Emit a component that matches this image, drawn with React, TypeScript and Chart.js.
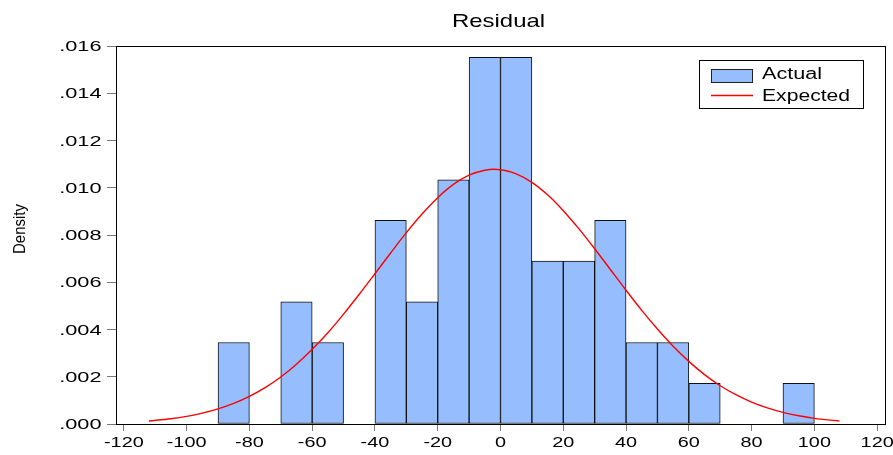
import React, { useEffect, useRef } from "react";
import { Chart, registerables } from "chart.js";

Chart.register(...registerables);

const titleText = "Residual";
const yAxisTitle = "Density";
const seriesLabels = ["Actual", "Expected"];

// histogram bins (centres, width 10) and densities
const binCenters = [-85, -75, -65, -55, -45, -35, -25, -15, -5, 5, 15, 25, 35, 45, 55, 65, 75, 85, 95];
const binDensity = [
  0.00345, 0, 0.00517, 0.00345, 0, 0.00862, 0.00517, 0.01034, 0.01552, 0.01552,
  0.0069, 0.0069, 0.00862, 0.00345, 0.00345, 0.00172, 0, 0, 0.00172,
];

// expected (normal) density curve
const curveX = [
  -112, -105, -100, -95, -90, -85, -80, -75, -70, -65, -60, -55, -50, -45, -40, -35, -30, -25, -20, -15,
  -10, -5, -2, 0, 5, 10, 15, 20, 25, 30, 35, 40, 45, 50, 55, 60, 65, 70, 75, 80, 85, 90, 95, 100, 105, 108,
];
const curveY = [
  0.00013, 0.000224, 0.000323, 0.000458, 0.000637, 0.000871, 0.00117, 0.00154, 0.00199, 0.00253,
  0.00316, 0.00386, 0.00465, 0.00549, 0.00636, 0.00724, 0.0081, 0.00889, 0.00958, 0.01014,
  0.01053, 0.01074, 0.01078, 0.01076, 0.01059, 0.01023, 0.0097, 0.00903, 0.00826, 0.00742,
  0.00654, 0.00566, 0.00481, 0.00402, 0.00329, 0.00265, 0.00209, 0.00162, 0.00124, 0.000925,
  0.000679, 0.00049, 0.000347, 0.00024, 0.000165, 0.00013,
];

const xMin = -122.5;
const xMax = 122.5;
const xStep = 20;
const yMin = 0;
const yMax = 0.016;
const yStep = 0.002;

const BAR_FILL = "rgb(150,190,255)";
const RED = "rgb(255,0,0)";
const FONT = "'Liberation Sans', Arial, sans-serif";

const fmtY = (v: number) => v.toFixed(3).replace(/^0/, "");
const fmtX = (v: number) => String(Math.round(v));

function stretchedText(
  ctx: CanvasRenderingContext2D,
  text: string,
  x: number,
  baseline: number,
  size: number,
  sx: number,
  align: CanvasTextAlign
) {
  ctx.save();
  ctx.translate(x, baseline);
  ctx.scale(sx, 1);
  ctx.font = `${size}px ${FONT}`;
  ctx.textAlign = align;
  ctx.textBaseline = "alphabetic";
  ctx.fillStyle = "#000";
  ctx.fillText(text, 0, 0);
  ctx.restore();
}

const decorPlugin = {
  id: "decor",
  afterDraw(chart: any) {
    const ctx: CanvasRenderingContext2D = chart.ctx;
    const { left, right, top, bottom } = chart.chartArea;
    // frame
    ctx.save();
    ctx.strokeStyle = "#000";
    ctx.lineWidth = 1;
    ctx.strokeRect(Math.round(left) + 0.5, Math.round(top) + 0.5, Math.round(right) - Math.round(left), Math.round(bottom) - Math.round(top));
    ctx.restore();

    // y tick labels
    const ys = chart.scales.y;
    ys.ticks.forEach((t: any) => {
      const py = ys.getPixelForValue(t.value);
      const lbl = typeof t.label === "string" ? t.label : fmtY(t.value);
      stretchedText(ctx, lbl, 101.5, py + 0.36 * 14.5, 14.5, 1.5, "right");
    });
    // x tick labels
    const xs = chart.scales.x;
    xs.ticks.forEach((t: any) => {
      const px = xs.getPixelForValue(t.value);
      const lbl = typeof t.label === "string" ? t.label : fmtX(t.value);
      stretchedText(ctx, lbl, px, 441 + 0.36 * 15.5, 15.5, 1.28, "center");
    });

    // title
    stretchedText(ctx, titleText, (left + right) / 2 - 2, 27.2, 19, 1.26, "center");

    // y axis title
    ctx.save();
    ctx.translate(24.5, 229);
    ctx.rotate(-Math.PI / 2);
    ctx.scale(1, 1.08);
    ctx.font = `15px ${FONT}`;
    ctx.textAlign = "center";
    ctx.textBaseline = "alphabetic";
    ctx.fillStyle = "#000";
    ctx.fillText(yAxisTitle, 0, 0);
    ctx.restore();

    // legend
    const ds = chart.data.datasets;
    ctx.save();
    ctx.fillStyle = "#fff";
    ctx.fillRect(700, 61, 163, 47);
    ctx.strokeStyle = "#000";
    ctx.lineWidth = 1;
    ctx.strokeRect(699.5, 60.5, 164, 48);
    ctx.fillStyle = BAR_FILL;
    ctx.fillRect(711.5, 69.5, 41, 13);
    ctx.strokeStyle = "#222";
    ctx.strokeRect(711.5, 69.5, 41, 13);
    ctx.strokeStyle = RED;
    ctx.lineWidth = 1.4;
    ctx.beginPath();
    ctx.moveTo(711, 95.5);
    ctx.lineTo(753, 95.5);
    ctx.stroke();
    ctx.restore();
    stretchedText(ctx, ds[0].label, 762, 78.8, 16, 1.35, "left");
    stretchedText(ctx, ds[1].label, 762, 100.8, 16, 1.32, "left");
  },
};

export default function App() {
  const ref = useRef<HTMLCanvasElement | null>(null);

  useEffect(() => {
    document.body.style.margin = "0";
    const canvas = ref.current;
    if (!canvas) return;
    const chart = new Chart(canvas, {
      type: "bar",
      data: {
        datasets: [
          {
            type: "bar",
            label: seriesLabels[0],
            data: binCenters.map((x, i) => ({ x, y: binDensity[i] })),
            backgroundColor: BAR_FILL,
            borderColor: "#111",
            borderWidth: 1,
            borderSkipped: false,
            barPercentage: 1,
            categoryPercentage: 1,
            order: 2,
          } as any,
          {
            type: "line",
            label: seriesLabels[1],
            data: curveX.map((x, i) => ({ x, y: curveY[i] })),
            borderColor: RED,
            borderWidth: 1.4,
            pointRadius: 0,
            fill: false,
            cubicInterpolationMode: "monotone",
            order: 1,
          } as any,
        ],
      },
      options: {
        responsive: false,
        animation: false,
        devicePixelRatio: 1,
        layout: { padding: { left: 0, right: 8, top: 46, bottom: 0 } },
        plugins: {
          legend: { display: false },
          title: { display: false },
          tooltip: { enabled: false },
        },
        scales: {
          x: {
            type: "linear",
            min: xMin,
            max: xMax,
            offset: false,
            grid: {
              display: true,
              offset: false,
              drawOnChartArea: false,
              drawTicks: true,
              tickLength: 7,
              color: "#777",
            },
            border: { display: true, color: "#000", width: 1 },
            ticks: {
              display: false,
              stepSize: xStep,
              includeBounds: false,
              autoSkip: false,
              callback: (v: any) => fmtX(Number(v)),
            },
            afterFit: (s: any) => {
              s.height = 31;
            },
          },
          y: {
            type: "linear",
            min: yMin,
            max: yMax,
            grid: {
              display: true,
              drawOnChartArea: false,
              drawTicks: true,
              tickLength: 9,
              color: "#777",
            },
            border: { display: true, color: "#000", width: 1 },
            ticks: {
              display: false,
              stepSize: yStep,
              autoSkip: false,
              callback: (v: any) => fmtY(Number(v)),
            },
            afterFit: (s: any) => {
              s.width = 116;
            },
          },
        },
      } as any,
      plugins: [decorPlugin],
    });
    return () => chart.destroy();
  }, []);

  return (
    <div style={{ position: "absolute", left: 0, top: 0, width: 893, height: 455, background: "#fff" }}>
      <canvas ref={ref} width={893} height={455} style={{ width: 893, height: 455, display: "block" }} />
    </div>
  );
}
